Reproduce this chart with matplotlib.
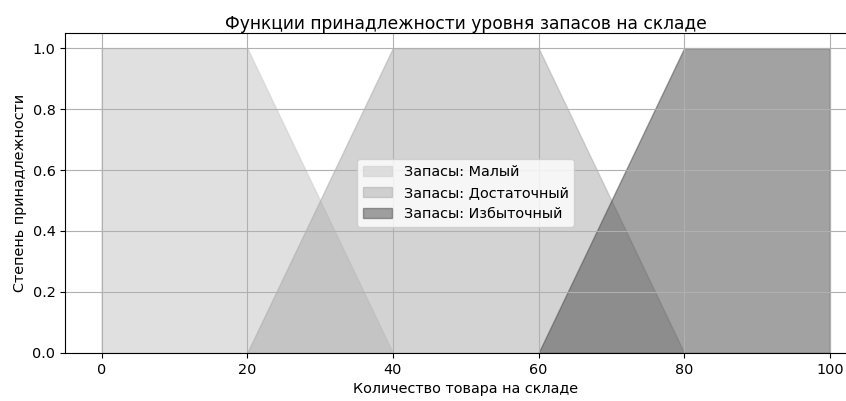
import numpy as np
import matplotlib
matplotlib.use('Agg')
import matplotlib.pyplot as plt

# точки функций принадлежности (трапеции)
x_small = [0, 20, 40]
y_small = [1, 1, 0]
x_enough = [20, 40, 60, 80]
y_enough = [0, 1, 1, 0]
x_excess = [60, 80, 100]
y_excess = [0, 1, 1]

labels = ['Запасы: Малый', 'Запасы: Достаточный', 'Запасы: Избыточный']

plt.rcParams['font.size'] = 10.4

fig = plt.figure(figsize=(8.46, 4.01), dpi=100)
# правый край осей выходит за пределы картинки (как в оригинале)
ax = fig.add_axes([0.077, 0.12, 0.947, 0.798])

ax.fill_between(x_small, y_small, color='lightgray', alpha=0.7, label=labels[0])
ax.fill_between(x_enough, y_enough, color='darkgray', alpha=0.5, label=labels[1])
ax.fill_between(x_excess, y_excess, color='#4a4a4a', alpha=0.51, label=labels[2])

ax.set_xlim(-5, 105)
ax.set_ylim(0, 1.05)
ax.set_title('Функции принадлежности уровня запасов на складе', fontsize=12.3, pad=3)
ax.set_xlabel('Количество товара на складе')
ax.set_ylabel('Степень принадлежности')
ax.grid(True)
ax.legend(loc='center')

fig.savefig('out.png', dpi=100)
